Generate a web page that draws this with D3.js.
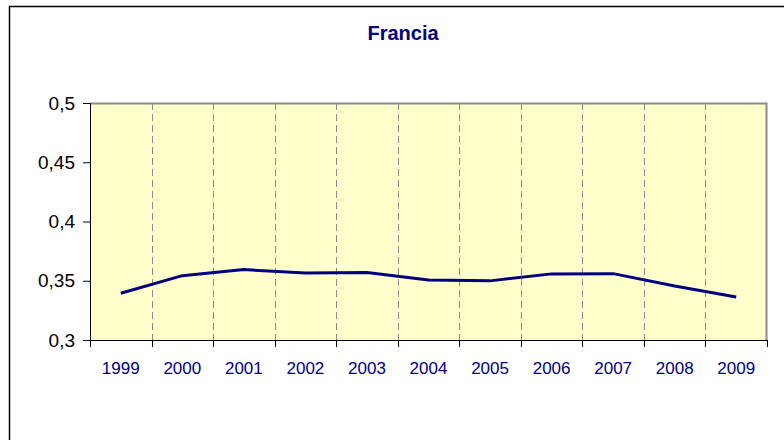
<!DOCTYPE html>
<html>
<head>
<meta charset="utf-8">
<script src="https://cdn.jsdelivr.net/npm/d3@7"></script>
<style>
  body { margin: 0; background: #fff; }
  svg { display: block; font-family: "Liberation Sans", Arial, sans-serif; }
</style>
</head>
<body>
<div id="chart"></div>
<script>
var years = ["1999", "2000", "2001", "2002", "2003", "2004", "2005", "2006", "2007", "2008", "2009"];
var values = [0.3394, 0.3543, 0.3594, 0.3566, 0.3569, 0.3507, 0.3499, 0.3558, 0.356, 0.3456, 0.3363];
var yTicks = [0.3, 0.35, 0.4, 0.45, 0.5];

var margin = { top: 103, right: 17, bottom: 100, left: 90 },
    width = 784 - margin.left - margin.right,
    height = 440 - margin.top - margin.bottom;

var svg = d3.select("#chart").append("svg")
    .attr("width", 784)
    .attr("height", 440);

// outer frame (runs off the right and bottom edges)
svg.append("rect")
    .attr("x", 9.5)
    .attr("y", 6.5)
    .attr("width", 800)
    .attr("height", 460)
    .attr("fill", "#fff")
    .attr("stroke", "#000")
    .attr("stroke-width", 1.5);

svg.append("text")
    .attr("x", 403)
    .attr("y", 40)
    .attr("text-anchor", "middle")
    .attr("fill", "#000080")
    .style("font-size", "20px")
    .style("font-weight", "bold")
    .text("Francia");

var g = svg.append("g")
    .attr("transform", "translate(" + margin.left + "," + margin.top + ")");

var x = d3.scaleBand()
    .domain(years)
    .range([0, width]);

var y = d3.scaleLinear()
    .domain([0.3, 0.5])
    .range([height, 0]);

g.append("rect")
    .attr("width", width)
    .attr("height", height)
    .attr("fill", "#ffffcc");

// dashed gridlines at category boundaries
g.selectAll(".grid")
    .data(years.slice(1))
    .enter()
    .append("line")
    .attr("x1", function(d) { return Math.round(x(d)) + 0.5; })
    .attr("x2", function(d) { return Math.round(x(d)) + 0.5; })
    .attr("y1", 0)
    .attr("y2", height)
    .attr("stroke", "#8c8c8c")
    .attr("stroke-dasharray", "7,4");

// top and right frame of plot
g.append("path")
    .attr("d", "M0,0.5H" + (width - 0.5) + "V" + height)
    .attr("fill", "none")
    .attr("stroke", "#8c8c8c")
    .attr("stroke-width", 2);

var line = d3.line()
    .x(function(d, i) { return x(years[i]) + x.bandwidth() / 2; })
    .y(function(d) { return y(d); });

g.append("path")
    .datum(values)
    .attr("d", line)
    .attr("fill", "none")
    .attr("stroke", "#000080")
    .attr("stroke-width", 3)
    .attr("stroke-linejoin", "round");

var yAxis = d3.axisLeft(y)
    .tickValues(yTicks)
    .tickSize(7)
    .tickPadding(8)
    .tickFormat(function(d) { return d3.format(".2~f")(d).replace(".", ","); });

var yg = g.append("g").call(yAxis);
yg.selectAll("path, line").attr("stroke", "#000");
yg.selectAll("text")
    .attr("fill", "#000")
    .style("font-size", "19px")
    .style("font-family", "Liberation Sans, Arial, sans-serif");

// x axis: line, ticks at boundaries, labels at centres
var xg = g.append("g")
    .attr("transform", "translate(0," + height + ")");

xg.append("line")
    .attr("x1", 0)
    .attr("x2", width)
    .attr("y1", 0.5)
    .attr("y2", 0.5)
    .attr("stroke", "#000");

xg.selectAll(".xtick")
    .data(years.concat(["end"]))
    .enter()
    .append("line")
    .attr("x1", function(d, i) { return Math.round(i * x.step()) + 0.5; })
    .attr("x2", function(d, i) { return Math.round(i * x.step()) + 0.5; })
    .attr("y1", 0)
    .attr("y2", 7)
    .attr("stroke", "#000");

xg.selectAll(".xlabel")
    .data(years)
    .enter()
    .append("text")
    .attr("x", function(d) { return x(d) + x.bandwidth() / 2; })
    .attr("y", 34)
    .attr("text-anchor", "middle")
    .attr("fill", "#000080")
    .style("font-size", "17px")
    .text(function(d) { return d; });
</script>
</body>
</html>
